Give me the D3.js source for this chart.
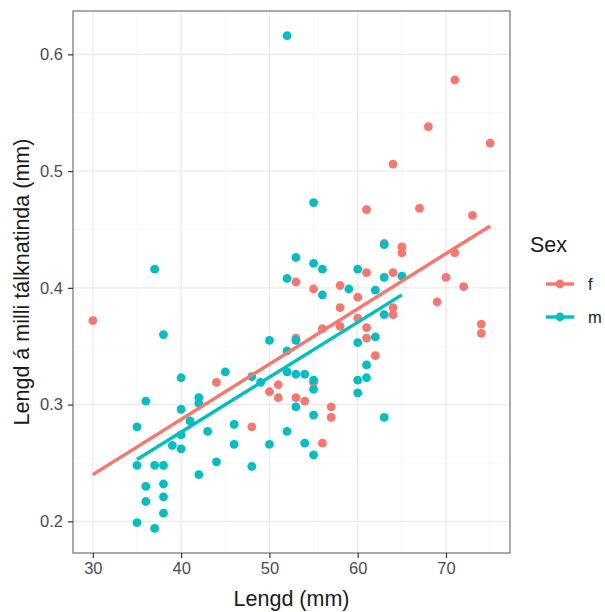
<!DOCTYPE html>
<html>
<head>
<meta charset="utf-8">
<script src="https://cdn.jsdelivr.net/npm/d3@7"></script>
<style>
  body { margin: 0; background: #fff; }
  text { font-family: "Liberation Sans", Arial, sans-serif; }
</style>
</head>
<body>
<div id="chart"></div>
<script>
const width = 605;
const height = 612;

// f points (Lengd, Lengd á milli tálknatinda)
const fLength = [30, 44, 48, 50, 51, 51, 53, 53, 53, 54, 55, 55, 56, 56, 57, 57, 58, 58, 58, 60, 60,
   61, 61, 61, 61, 62, 63, 64, 64, 64, 64, 65, 65, 67, 68, 69, 70, 71, 71, 72, 73, 74, 74, 75];
const fGill = [0.372, 0.319, 0.281, 0.311, 0.317, 0.306, 0.405, 0.357, 0.306, 0.303, 0.399, 0.319, 0.365, 0.267, 0.298, 0.289, 0.402, 0.383, 0.367, 0.392, 0.374,
   0.467, 0.413, 0.366, 0.357, 0.342, 0.438, 0.506, 0.413, 0.383, 0.377, 0.435, 0.430, 0.468, 0.538, 0.388, 0.409, 0.578, 0.430, 0.401, 0.462, 0.369, 0.361, 0.524];

// m points
const mLength = [35, 35, 35, 36, 36, 36, 37, 37, 37, 38, 38, 38, 38, 38, 39, 40, 40, 40, 40, 41,
   42, 42, 42, 43, 44, 45, 46, 46, 48, 48, 49, 50, 50, 52, 52, 52, 52, 52, 53, 53, 53, 53,
   54, 54, 55, 55, 55, 55, 55, 55, 56, 56, 59, 60, 60, 60, 60, 61, 61, 62, 62, 63, 63, 63, 63, 65];
const mGill = [0.281, 0.248, 0.199, 0.303, 0.230, 0.217, 0.416, 0.248, 0.194, 0.360, 0.248, 0.232, 0.221, 0.207, 0.265, 0.323, 0.296, 0.274, 0.262, 0.286,
   0.306, 0.301, 0.240, 0.277, 0.251, 0.328, 0.283, 0.266, 0.324, 0.247, 0.319, 0.355, 0.266, 0.616, 0.408, 0.346, 0.328, 0.277, 0.426, 0.355, 0.326, 0.298,
   0.326, 0.267, 0.473, 0.421, 0.321, 0.313, 0.291, 0.257, 0.416, 0.394, 0.399, 0.416, 0.353, 0.321, 0.310, 0.334, 0.323, 0.398, 0.358, 0.437, 0.409, 0.377, 0.289, 0.410];

// fitted lines (endpoints)
const fFitX = [30, 75];
const fFitY = [0.240, 0.453];
const mFitX = [35, 65];
const mFitY = [0.253, 0.394];

const sexes = ["f", "m"];
const colors = ["#F8766D", "#00BFC4"];

const xTicks = [30, 40, 50, 60, 70];
const yTicks = [0.2, 0.3, 0.4, 0.5, 0.6];
const xMinor = [35, 45, 55, 65, 75];
const yMinor = [0.25, 0.35, 0.45, 0.55];

const margin = {top: 11, right: 95, bottom: 59, left: 73};
const pw = width - margin.left - margin.right; // 437
const ph = height - margin.top - margin.bottom;

const svg = d3.select("#chart").append("svg")
   .attr("width", width)
   .attr("height", height);

const allX = fLength.concat(mLength);
const allY = fGill.concat(mGill);
const xr = d3.extent(allX), yr = d3.extent(allY);
const xe = (xr[1] - xr[0]) * 0.05, ye = (yr[1] - yr[0]) * 0.05;

const x = d3.scaleLinear()
   .domain([xr[0] - xe, xr[1] + xe])
   .range([margin.left, margin.left + pw]);
const y = d3.scaleLinear()
   .domain([yr[0] - ye, yr[1] + ye])
   .range([margin.top + ph, margin.top]);

const g = svg.append("g");

// grid
g.selectAll("line.minorx").data(xMinor).enter().append("line")
   .attr("x1", d => x(d)).attr("x2", d => x(d))
   .attr("y1", margin.top).attr("y2", margin.top + ph)
   .attr("stroke", "#f2f2f2").attr("stroke-width", 0.7);
g.selectAll("line.minory").data(yMinor).enter().append("line")
   .attr("y1", d => y(d)).attr("y2", d => y(d))
   .attr("x1", margin.left).attr("x2", margin.left + pw)
   .attr("stroke", "#f2f2f2").attr("stroke-width", 0.7);
g.selectAll("line.majorx").data(xTicks).enter().append("line")
   .attr("x1", d => x(d)).attr("x2", d => x(d))
   .attr("y1", margin.top).attr("y2", margin.top + ph)
   .attr("stroke", "#ebebeb").attr("stroke-width", 1.3);
g.selectAll("line.majory").data(yTicks).enter().append("line")
   .attr("y1", d => y(d)).attr("y2", d => y(d))
   .attr("x1", margin.left).attr("x2", margin.left + pw)
   .attr("stroke", "#ebebeb").attr("stroke-width", 1.3);

// points
const pts = [];
fLength.forEach((d, i) => pts.push({x: d, y: fGill[i], s: 0}));
mLength.forEach((d, i) => pts.push({x: d, y: mGill[i], s: 1}));

svg.selectAll("circle.pt").data(pts).enter().append("circle")
   .attr("class", "pt")
   .attr("cx", d => x(d.x))
   .attr("cy", d => y(d.y))
   .attr("r", 4.4)
   .attr("fill", d => colors[d.s]);

// fit lines
const line = d3.line().x(d => x(d[0])).y(d => y(d[1]));
[[fFitX, fFitY], [mFitX, mFitY]].forEach((f, i) => {
   svg.append("path")
      .datum(f[0].map((d, j) => [d, f[1][j]]))
      .attr("d", line)
      .attr("fill", "none")
      .attr("stroke", colors[i])
      .attr("stroke-width", 3.4);
});

// border
svg.append("rect")
   .attr("x", margin.left).attr("y", margin.top)
   .attr("width", pw).attr("height", ph)
   .attr("fill", "none")
   .attr("stroke", "#7d7d7d")
   .attr("stroke-width", 1.3);

// axes
const xAxis = svg.append("g")
   .attr("transform", `translate(0,${margin.top + ph})`)
   .call(d3.axisBottom(x).tickValues(xTicks).tickSize(5).tickPadding(5));
const yAxis = svg.append("g")
   .attr("transform", `translate(${margin.left},0)`)
   .call(d3.axisLeft(y).tickValues(yTicks).tickSize(5).tickPadding(5).tickFormat(d3.format(".1f")));
[xAxis, yAxis].forEach(a => {
   a.select(".domain").remove();
   a.selectAll(".tick line").attr("stroke", "#333").attr("stroke-width", 1.2);
   a.selectAll(".tick text").attr("fill", "#4d4d4d").style("font-size", "16.5px")
      .style("font-family", "'Liberation Sans', Arial, sans-serif");
});
xAxis.selectAll(".tick text").attr("dy", "0.72em").attr("y", 9);

// axis titles
svg.append("text")
   .attr("x", margin.left + pw / 2)
   .attr("y", 606)
   .attr("text-anchor", "middle")
   .style("font-size", "21.5px")
   .attr("fill", "#1a1a1a")
   .text("Lengd (mm)");
svg.append("text")
   .attr("transform", `translate(29,${margin.top + ph / 2}) rotate(-90)`)
   .attr("text-anchor", "middle")
   .style("font-size", "21.5px")
   .attr("fill", "#1a1a1a")
   .text("Lengd á milli tálknatinda (mm)");

// legend
const lg = svg.append("g").attr("transform", "translate(530,0)");
lg.append("text")
   .attr("x", 0).attr("y", 252)
   .style("font-size", "21.5px")
   .attr("fill", "#1a1a1a")
   .text("Sex");
sexes.forEach((s, i) => {
   const yy = 284 + i * 33;
   lg.append("line")
      .attr("x1", 16).attr("x2", 44)
      .attr("y1", yy).attr("y2", yy)
      .attr("stroke", colors[i]).attr("stroke-width", 3.4);
   lg.append("circle")
      .attr("cx", 30).attr("cy", yy).attr("r", 4.4)
      .attr("fill", colors[i]);
   lg.append("text")
      .attr("x", 58).attr("y", yy + 6)
      .style("font-size", "16.5px")
      .attr("fill", "#1a1a1a")
      .text(s);
});
</script>
</body>
</html>
